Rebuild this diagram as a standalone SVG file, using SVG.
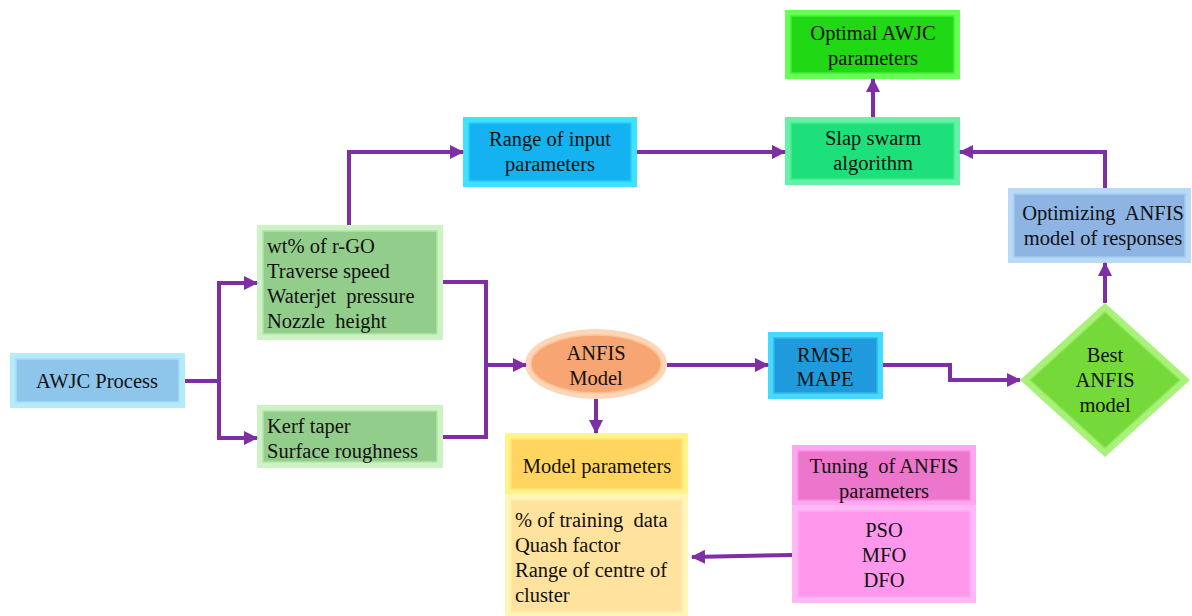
<svg xmlns="http://www.w3.org/2000/svg" width="1192" height="616" viewBox="0 0 1192 616">
<style>
text{font-family:"Liberation Serif","Times New Roman",serif;font-size:20.5px;fill:#111;white-space:pre}
.c{text-anchor:middle}
.wire{fill:none;stroke:#7E2FA3;stroke-width:4}
.in{stroke-width:1.5}
</style>
<defs>
<marker id="ah" markerUnits="userSpaceOnUse" markerWidth="14" markerHeight="14" refX="13" refY="7" orient="auto">
<path d="M0 0 L14 7 L0 14 z" fill="#7E2FA3"/>
</marker>
</defs>
<rect width="1192" height="616" fill="#fff"/>

<g id="awjc">
<rect x="10" y="353" width="175" height="55" fill="#B4EBFB"/>
<rect x="16" y="359" width="163" height="43" fill="#8EC5EA" class="in" stroke="#A6DDF5"/>
<text x="97" y="388" class="c">AWJC Process</text>
</g>

<g id="inputs">
<rect x="257" y="225" width="186" height="115" fill="#CDF2C3"/>
<rect x="263" y="231" width="174" height="103" fill="#93CD8C" class="in" stroke="#B5E4AA"/>
<text x="267" y="253">wt% of r-GO</text>
<text x="267" y="278">Traverse speed</text>
<text x="267" y="303">Waterjet  pressure</text>
<text x="267" y="328">Nozzle  height</text>
</g>

<g id="responses">
<rect x="257" y="405" width="186" height="63" fill="#CDF2C3"/>
<rect x="263" y="411" width="174" height="51" fill="#93CD8C" class="in" stroke="#B5E4AA"/>
<text x="267" y="433">Kerf taper</text>
<text x="267" y="458">Surface roughness</text>
</g>

<g id="range">
<rect x="463" y="117" width="174" height="70" fill="#3FE2FF"/>
<rect x="469" y="123" width="162" height="58" fill="#14B2F0" class="in" stroke="#2ACBF8"/>
<text x="550" y="146" class="c">Range of input</text>
<text x="550" y="171" class="c">parameters</text>
</g>

<g id="slap">
<rect x="785" y="117" width="175" height="68" fill="#66F2A6"/>
<rect x="791" y="123" width="163" height="56" fill="#1EE07A" class="in" stroke="#44EA92"/>
<text x="873" y="145" class="c">Slap swarm</text>
<text x="873" y="170" class="c">algorithm</text>
</g>

<g id="optimal">
<rect x="785" y="10" width="175" height="69" fill="#66FF55"/>
<rect x="791" y="16" width="163" height="57" fill="#20D814" class="in" stroke="#44EE33"/>
<text x="873" y="40" class="c">Optimal AWJC</text>
<text x="873" y="65" class="c">parameters</text>
</g>

<g id="optimizing">
<rect x="1008" y="188" width="183" height="75" fill="#B8DAF6"/>
<rect x="1014" y="194" width="171" height="63" fill="#8DB4E2" class="in" stroke="#A5CBEF"/>
<text x="1103" y="220" class="c">Optimizing  ANFIS</text>
<text x="1103" y="245" class="c">model of responses</text>
</g>

<g id="anfis">
<ellipse cx="596" cy="364" rx="71" ry="35" fill="#FCD6B6"/>
<ellipse cx="596" cy="364" rx="65" ry="29" fill="#F8A574" class="in" stroke="#FBC39A"/>
<text x="596" y="360" class="c">ANFIS</text>
<text x="596" y="385" class="c">Model</text>
</g>

<g id="rmse">
<rect x="768" y="332" width="115" height="67" fill="#45DAFB"/>
<rect x="774" y="338" width="103" height="55" fill="#1E9ADD" class="in" stroke="#2CB8EE"/>
<text x="825" y="362" class="c">RMSE</text>
<text x="825" y="386" class="c">MAPE</text>
</g>

<g id="best">
<polygon points="1105,303 1190,380 1105,457 1020,380" fill="#A8F27A"/>
<polygon points="1105,312 1180,380 1105,448 1030,380" fill="#76D93A" class="in" stroke="#92E65E"/>
<text x="1105" y="362" class="c">Best</text>
<text x="1105" y="387" class="c">ANFIS</text>
<text x="1105" y="412" class="c">model</text>
</g>

<g id="modelparams">
<rect x="505" y="433" width="183" height="61" fill="#FFF48C"/>
<rect x="511" y="439" width="171" height="50" fill="#FFD55F" class="in" stroke="#FFE47A"/>
<text x="597" y="473" class="c">Model parameters</text>
<rect x="505" y="494" width="183" height="122" fill="#FFF6B8"/>
<rect x="511" y="500" width="171" height="112" fill="#FFE29E" class="in" stroke="#FFEDB0"/>
<text x="515" y="527">% of training  data</text>
<text x="515" y="552">Quash factor</text>
<text x="515" y="577">Range of centre of</text>
<text x="515" y="602">cluster</text>
</g>

<g id="tuning">
<rect x="792" y="445" width="184" height="60" fill="#FFA6F2"/>
<rect x="798" y="451" width="172" height="49" fill="#EC76CB" class="in" stroke="#F58EDC"/>
<text x="884" y="473" class="c">Tuning  of ANFIS</text>
<text x="884" y="498" class="c">parameters</text>
<rect x="792" y="505" width="184" height="98" fill="#FFB8F5"/>
<rect x="798" y="511" width="172" height="86" fill="#FF98EC" class="in" stroke="#FFAAF0"/>
<text x="884" y="537" class="c">PSO</text>
<text x="884" y="562" class="c">MFO</text>
<text x="884" y="587" class="c">DFO</text>
</g>

<g id="connectors">
<path class="wire" d="M185 381 H219 V283 H257" marker-end="url(#ah)"/>
<path class="wire" d="M219 381 V438 H257" marker-end="url(#ah)"/>
<path class="wire" d="M443 282 H486 V365 H526" marker-end="url(#ah)"/>
<path class="wire" d="M443 437 H486 V365"/>
<path class="wire" d="M349 225 V152 H463" marker-end="url(#ah)"/>
<path class="wire" d="M637 152 H785" marker-end="url(#ah)"/>
<path class="wire" d="M873 117 V79" marker-end="url(#ah)"/>
<path class="wire" d="M1105 188 V152 H960" marker-end="url(#ah)"/>
<path class="wire" d="M1105 303 V263" marker-end="url(#ah)"/>
<path class="wire" d="M667 365 H768" marker-end="url(#ah)"/>
<path class="wire" d="M883 365 H950 V380 H1020" marker-end="url(#ah)"/>
<path class="wire" d="M596 399 V433" marker-end="url(#ah)"/>
<path class="wire" d="M792 555 L692 557" marker-end="url(#ah)"/>
</g>
</svg>
